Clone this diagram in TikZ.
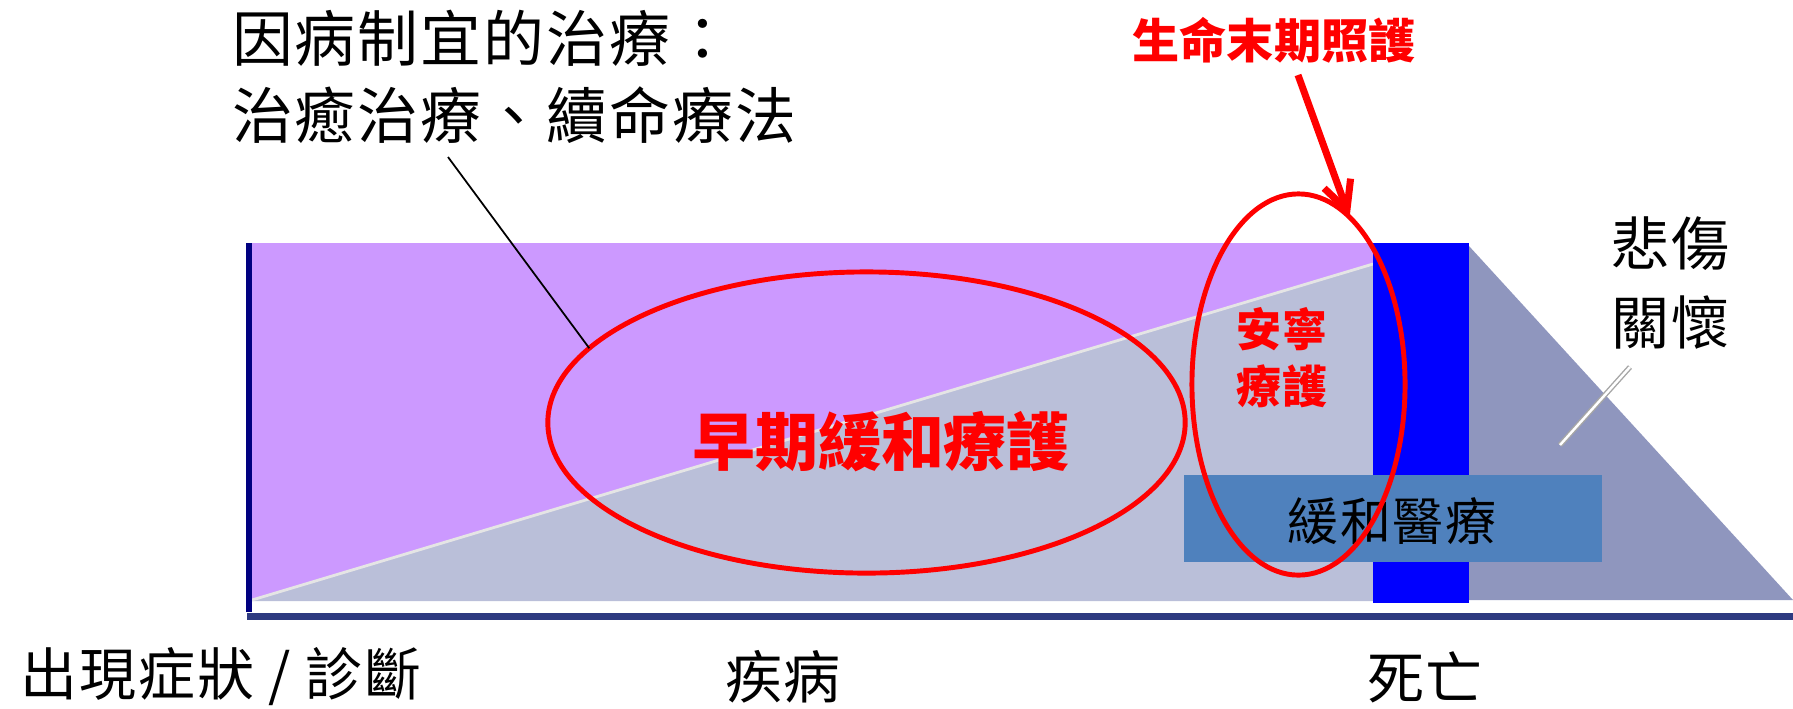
\documentclass[tikz,border=0pt]{standalone}
\usepackage{fontspec}
\newfontfamily\cjk{Noto Sans CJK TC}
\newfontfamily\cjkwide[LetterSpace=3.5]{Noto Sans CJK TC}
\usetikzlibrary{shapes.geometric,arrows.meta}
\definecolor{lilac}{HTML}{CC99FF}
\definecolor{mist}{HTML}{BABFD9}
\definecolor{slate}{HTML}{8F96BE}
\definecolor{navyblue}{HTML}{000080}
\definecolor{axisblue}{HTML}{2E3A80}
\definecolor{boxblue}{HTML}{4F81BD}
\begin{document}
\begin{tikzpicture}[x=0.01cm,y=-0.01cm,
  txt/.style={inner sep=0pt, outer sep=0pt, text=black},
  redtxt/.style={inner sep=0pt, outer sep=0pt, text=red},
  ring/.style={ellipse, draw=red, line width=1.4pt, inner sep=0pt, outer sep=0pt},
  leader/.style={black, line width=0.5pt}]
\useasboundingbox (0,0) rectangle (1793,708);
% background bands
\fill[lilac] (252,243) rectangle (1373,601);
\fill[mist] (252,601) -- (1373,264) -- (1373,601) -- cycle;
\draw[white!80!gray, line width=0.8pt] (252,600) -- (1373,264);
\fill[slate] (1469,246) -- (1793,600) -- (1469,600) -- cycle;
\fill[blue] (1373,243) rectangle (1469,603);
\fill[navyblue] (246,243) rectangle (252,612);
\fill[axisblue] (247,613) rectangle (1793,620);
% palliative box
\node[fill=boxblue, minimum width=4.18cm, minimum height=0.87cm, inner sep=0pt, outer sep=0pt, anchor=north west] (palbox) at (1184,475) {};
\node[txt, font=\cjkwide\fontsize{14.5}{17}\selectfont] (paltext) at (1392,521) {緩和醫療};
% texts
\node[txt, anchor=west, align=left, font=\cjkwide\fontsize{17.3}{21.9}\selectfont] (treat) at (232,76.5) {因病制宜的治療：\\治癒治療、續命療法};
\node[redtxt, font=\cjk\bfseries\fontsize{13.4}{16}\selectfont] (eol) at (1274,40) {生命末期照護};
\node[redtxt, font=\cjk\bfseries\fontsize{17.9}{21}\selectfont] (earlytxt) at (881,442) {早期緩和療護};
\node[redtxt, align=center, font=\cjk\bfseries\fontsize{12.8}{16.2}\selectfont] (hosptxt) at (1282,357.5) {安寧\\療護};
\node[txt, align=center, font=\cjkwide\fontsize{16.5}{22.2}\selectfont] (grief) at (1671,283) {悲傷\\關懷};
\node[txt, font=\cjkwide\fontsize{16.2}{19}\selectfont] (onset) at (221,677) {出現症狀\hspace{0.25em}/\hspace{0.25em}診斷};
\node[txt, font=\cjkwide\fontsize{16.2}{19}\selectfont] (disease) at (783,677) {疾病};
\node[txt, font=\cjkwide\fontsize{16.2}{19}\selectfont] (death) at (1425,677) {死亡};
% ellipses
\node[ring, minimum width=6.37cm, minimum height=3.01cm] (early) at (866.5,422.5) {};
\node[ring, minimum width=2.13cm, minimum height=3.81cm] (hospice) at (1298.5,384.5) {};
% connectors
\coordinate (l1) at (448,157);
\draw[leader] (l1) -- (early.165);
\coordinate (a1) at (1298,75);
\draw[red, line width=2pt, -{Straight Barb[length=8pt,width=8pt]}] (a1) -- (hospice.73);
\coordinate (g1) at (1630,367);
\coordinate (g2) at (1560,445);
\draw[gray!70, line width=0.4pt, double=white, double distance=0.7pt] (g1) -- (g2);
\end{tikzpicture}
\end{document}
